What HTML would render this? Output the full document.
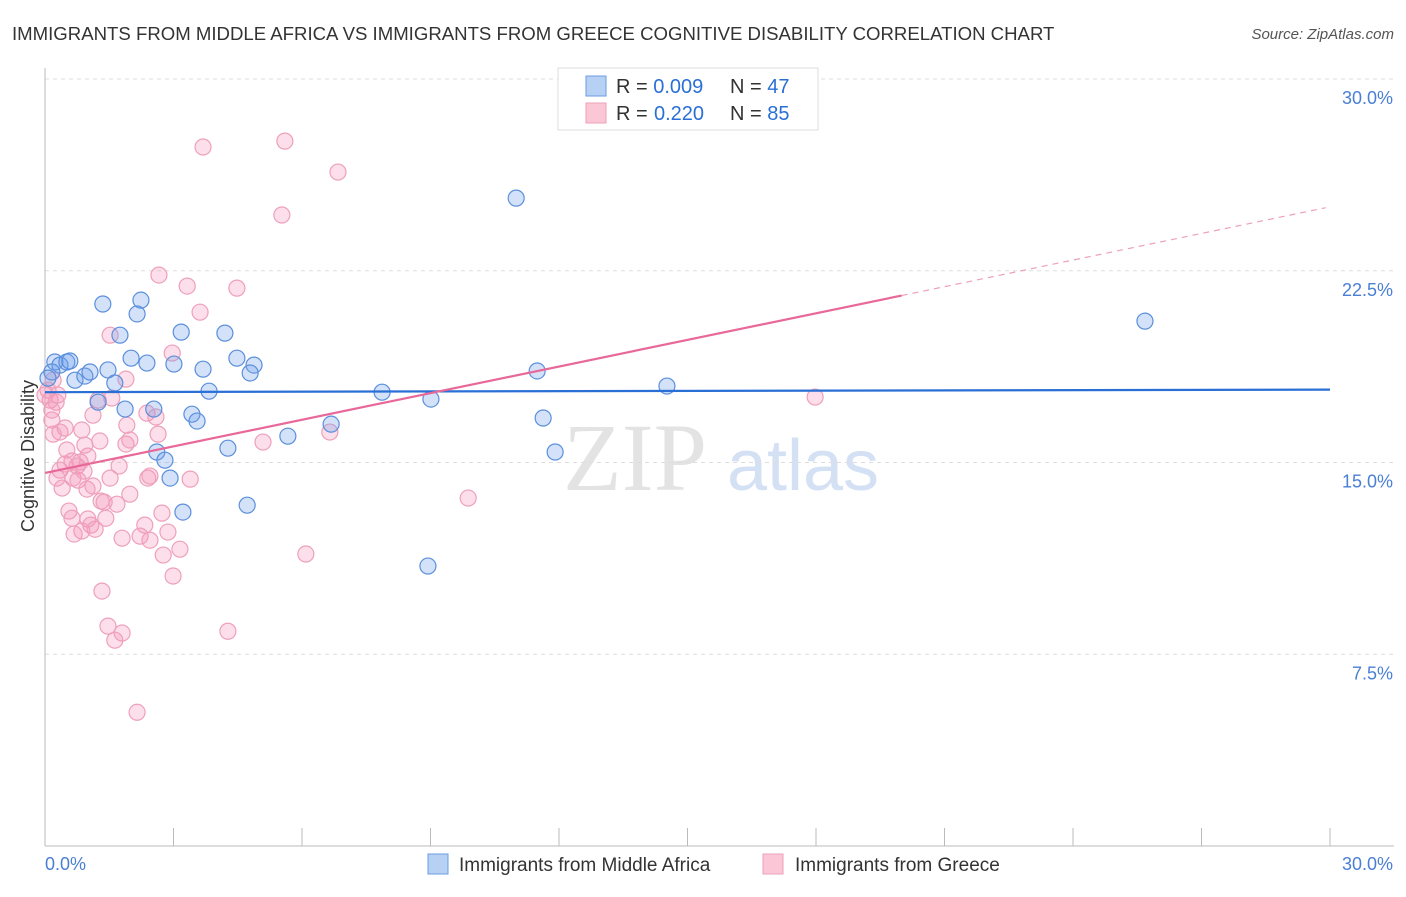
<!DOCTYPE html>
<html><head><meta charset="utf-8"><style>
body{margin:0;background:#fff;font-family:"Liberation Sans",sans-serif}
</style></head><body>
<svg id="chart" width="1406" height="892" viewBox="0 0 1406 892" xmlns="http://www.w3.org/2000/svg" font-family="Liberation Sans, sans-serif">
<text x="12" y="40" font-size="18.6" fill="#333">IMMIGRANTS FROM MIDDLE AFRICA VS IMMIGRANTS FROM GREECE COGNITIVE DISABILITY CORRELATION CHART</text>
<text x="1394" y="39" font-size="15" fill="#555" font-style="italic" text-anchor="end">Source: ZipAtlas.com</text>
<g>
<text x="635" y="490" font-size="96" fill="#d8d8d8" font-family="Liberation Serif, serif" text-anchor="middle" opacity="0.7">ZIP</text>
<text x="803" y="490" font-size="72" fill="#b8cdec" text-anchor="middle" opacity="0.6">atlas</text>
</g>
<g id="grid"></g>
<g id="axes"></g>
<g id="marks"></g>
<text transform="translate(34,456) rotate(-90)" font-size="18" fill="#333" text-anchor="middle">Cognitive Disability</text>
<g>
<rect x="558" y="68" width="260" height="62" fill="#fff" stroke="#ddd"/>
<rect x="586" y="76" width="20" height="20" fill="#b7d1f5" stroke="#6a9be0"/>
<rect x="586" y="103" width="20" height="20" fill="#fbc7d6" stroke="#eea0ba"/>
<text x="616" y="93" font-size="20" fill="#333">R = <tspan fill="#2a6fd6">0.009</tspan><tspan x="730">N = </tspan><tspan fill="#2a6fd6">47</tspan></text>
<text x="616" y="120" font-size="20" fill="#333">R = <tspan fill="#2a6fd6" x="654">0.220</tspan><tspan x="730">N = </tspan><tspan fill="#2a6fd6">85</tspan></text>
</g>
<g>
<rect x="428" y="854" width="20" height="20" fill="#b7d1f5" stroke="#6a9be0"/>
<text x="459" y="871" font-size="19" fill="#333">Immigrants from Middle Africa</text>
<rect x="763" y="854" width="20" height="20" fill="#fbc7d6" stroke="#eea0ba"/>
<text x="795" y="871" font-size="19" fill="#333">Immigrants from Greece</text>
</g>
</svg>
<script>
const yTicks=[7.5,15.0,22.5,30.0];
const yTickLabels=["7.5%","15.0%","22.5%","30.0%"];
const xTicks=[0,3,6,9,12,15,18,21,24,27,30];
const blueX=[0.23,0.35,0.51,0.58,0.16,0.07,0.70,0.93,1.05,1.47,1.63,1.35,2.24,2.15,1.75,2.01,2.38,3.18,3.01,4.20,4.48,4.88,4.79,3.69,3.83,1.87,1.24,2.54,3.43,3.55,4.27,2.61,2.80,2.92,3.22,4.72,5.67,6.68,7.87,9.01,11.00,11.49,11.63,11.91,8.94,14.52,25.68];
const blueY=[18.93,18.81,18.93,18.97,18.54,18.30,18.22,18.38,18.54,18.62,18.11,21.20,21.35,20.81,19.98,19.08,18.89,20.10,18.85,20.06,19.08,18.81,18.50,18.65,17.79,17.09,17.36,17.09,16.89,16.62,15.56,15.41,15.09,14.39,13.06,13.33,16.03,16.50,17.75,17.48,25.34,18.58,16.74,15.41,10.95,17.99,20.53];
const pinkX=[3.69,5.60,6.84,5.53,2.66,3.32,4.48,3.62,1.52,2.97,1.89,0.19,0.07,0.12,0.26,1.56,1.24,2.38,2.59,1.91,0.16,0.35,0.47,0.19,0.86,1.12,2.64,1.28,1.89,5.09,6.65,0.63,0.82,0.75,0.47,1.00,0.35,0.28,0.65,0.77,0.91,1.52,1.73,2.40,2.45,3.39,0.98,1.12,0.40,1.31,1.38,1.68,1.98,0.56,0.63,1.00,1.07,1.42,1.17,0.86,0.68,2.33,2.73,2.87,2.22,1.80,2.76,3.15,2.99,6.09,9.88,17.98,1.33,1.47,1.80,1.63,2.15,4.27,1.98,0.16,0.51,0.93,2.45,0.00,0.30];
const pinkY=[27.34,27.57,26.36,24.68,22.33,21.90,21.82,20.88,19.98,19.28,18.26,18.22,17.83,17.44,17.36,17.52,17.44,16.93,16.78,16.46,16.66,16.19,16.35,16.11,16.27,16.85,16.11,15.84,15.72,15.80,16.19,15.06,15.02,14.86,14.94,15.25,14.70,14.39,14.39,14.31,14.66,14.39,14.86,14.39,14.47,14.35,13.96,14.08,14.00,13.49,13.45,13.37,13.76,13.10,12.82,12.79,12.55,12.82,12.39,12.32,12.20,12.55,13.02,12.28,12.12,12.04,11.38,11.61,10.56,11.42,13.61,17.56,9.97,8.60,8.33,8.05,5.23,8.40,15.88,17.05,15.49,15.68,11.96,17.64,17.64];
const blueTrend=[17.75,17.85];
const pinkTrend=[14.59,25.0];
const pinkSolidEnd=20;
const NS="http://www.w3.org/2000/svg";
const X0=45,X1=1330,YT=79,YB=846;
const sx=v=>X0+(v/30)*(X1-X0);
const sy=v=>YB-(v/30)*(YB-YT);
function mk(tag,attrs,parent){const e=document.createElementNS(NS,tag);for(const k in attrs)e.setAttribute(k,attrs[k]);parent.appendChild(e);return e;}
const grid=document.getElementById('grid'),axes=document.getElementById('axes'),marks=document.getElementById('marks');
yTicks.forEach((t,i)=>{
 const l=mk('line',{x1:X0,x2:1394,y1:sy(t),y2:sy(t),stroke:'#ddd','stroke-dasharray':'4,4'},grid);
 
 
 const tx=mk('text',{x:1393,y:sy(t)+25,'font-size':18,fill:'#4a7fd4','text-anchor':'end'},axes);
 tx.textContent=yTickLabels[i];
 
 
});
let al=mk('line',{x1:X0,x2:X0,y1:68,y2:YB,stroke:'#bbb'},axes);


al=mk('line',{x1:X0,x2:1394,y1:YB,y2:YB,stroke:'#bbb'},axes);


xTicks.forEach(t=>{
 const l=mk('line',{x1:sx(t),x2:sx(t),y1:828,y2:YB,stroke:'#bbb'},axes);
 
 
});
let xl=mk('text',{x:45,y:870,'font-size':18,fill:'#4a7fd4'},axes);xl.textContent='0.0%';


xl=mk('text',{x:1393,y:870,'font-size':18,fill:'#4a7fd4','text-anchor':'end'},axes);xl.textContent='30.0%';


function pts(xs,ys,fill,stroke,name){
 xs.forEach((x,i)=>{
  const c=mk('circle',{cx:sx(x),cy:sy(ys[i]),r:8,fill:fill,stroke:stroke,'stroke-width':1.2},marks);
  
  
 });
}
pts(pinkX,pinkY,'rgba(245,150,185,0.3)','#eea0ba','greece-point');
pts(blueX,blueY,'rgba(110,160,235,0.3)','#5b8fdc','middle-africa-point');
let ln=mk('line',{x1:sx(0),y1:sy(blueTrend[0]),x2:sx(30),y2:sy(blueTrend[1]),stroke:'#2a6fd6','stroke-width':2.2},marks);


const py=x=>pinkTrend[0]+(pinkTrend[1]-pinkTrend[0])*x/30;
ln=mk('line',{x1:sx(0),y1:sy(py(0)),x2:sx(pinkSolidEnd),y2:sy(py(pinkSolidEnd)),stroke:'#e8689a','stroke-width':2.2},marks);


ln=mk('line',{x1:sx(pinkSolidEnd),y1:sy(py(pinkSolidEnd)),x2:sx(29.9),y2:sy(py(29.9)),stroke:'#eea0ba','stroke-width':1.2,'stroke-dasharray':'6,5'},marks);


</script>
</body></html>
